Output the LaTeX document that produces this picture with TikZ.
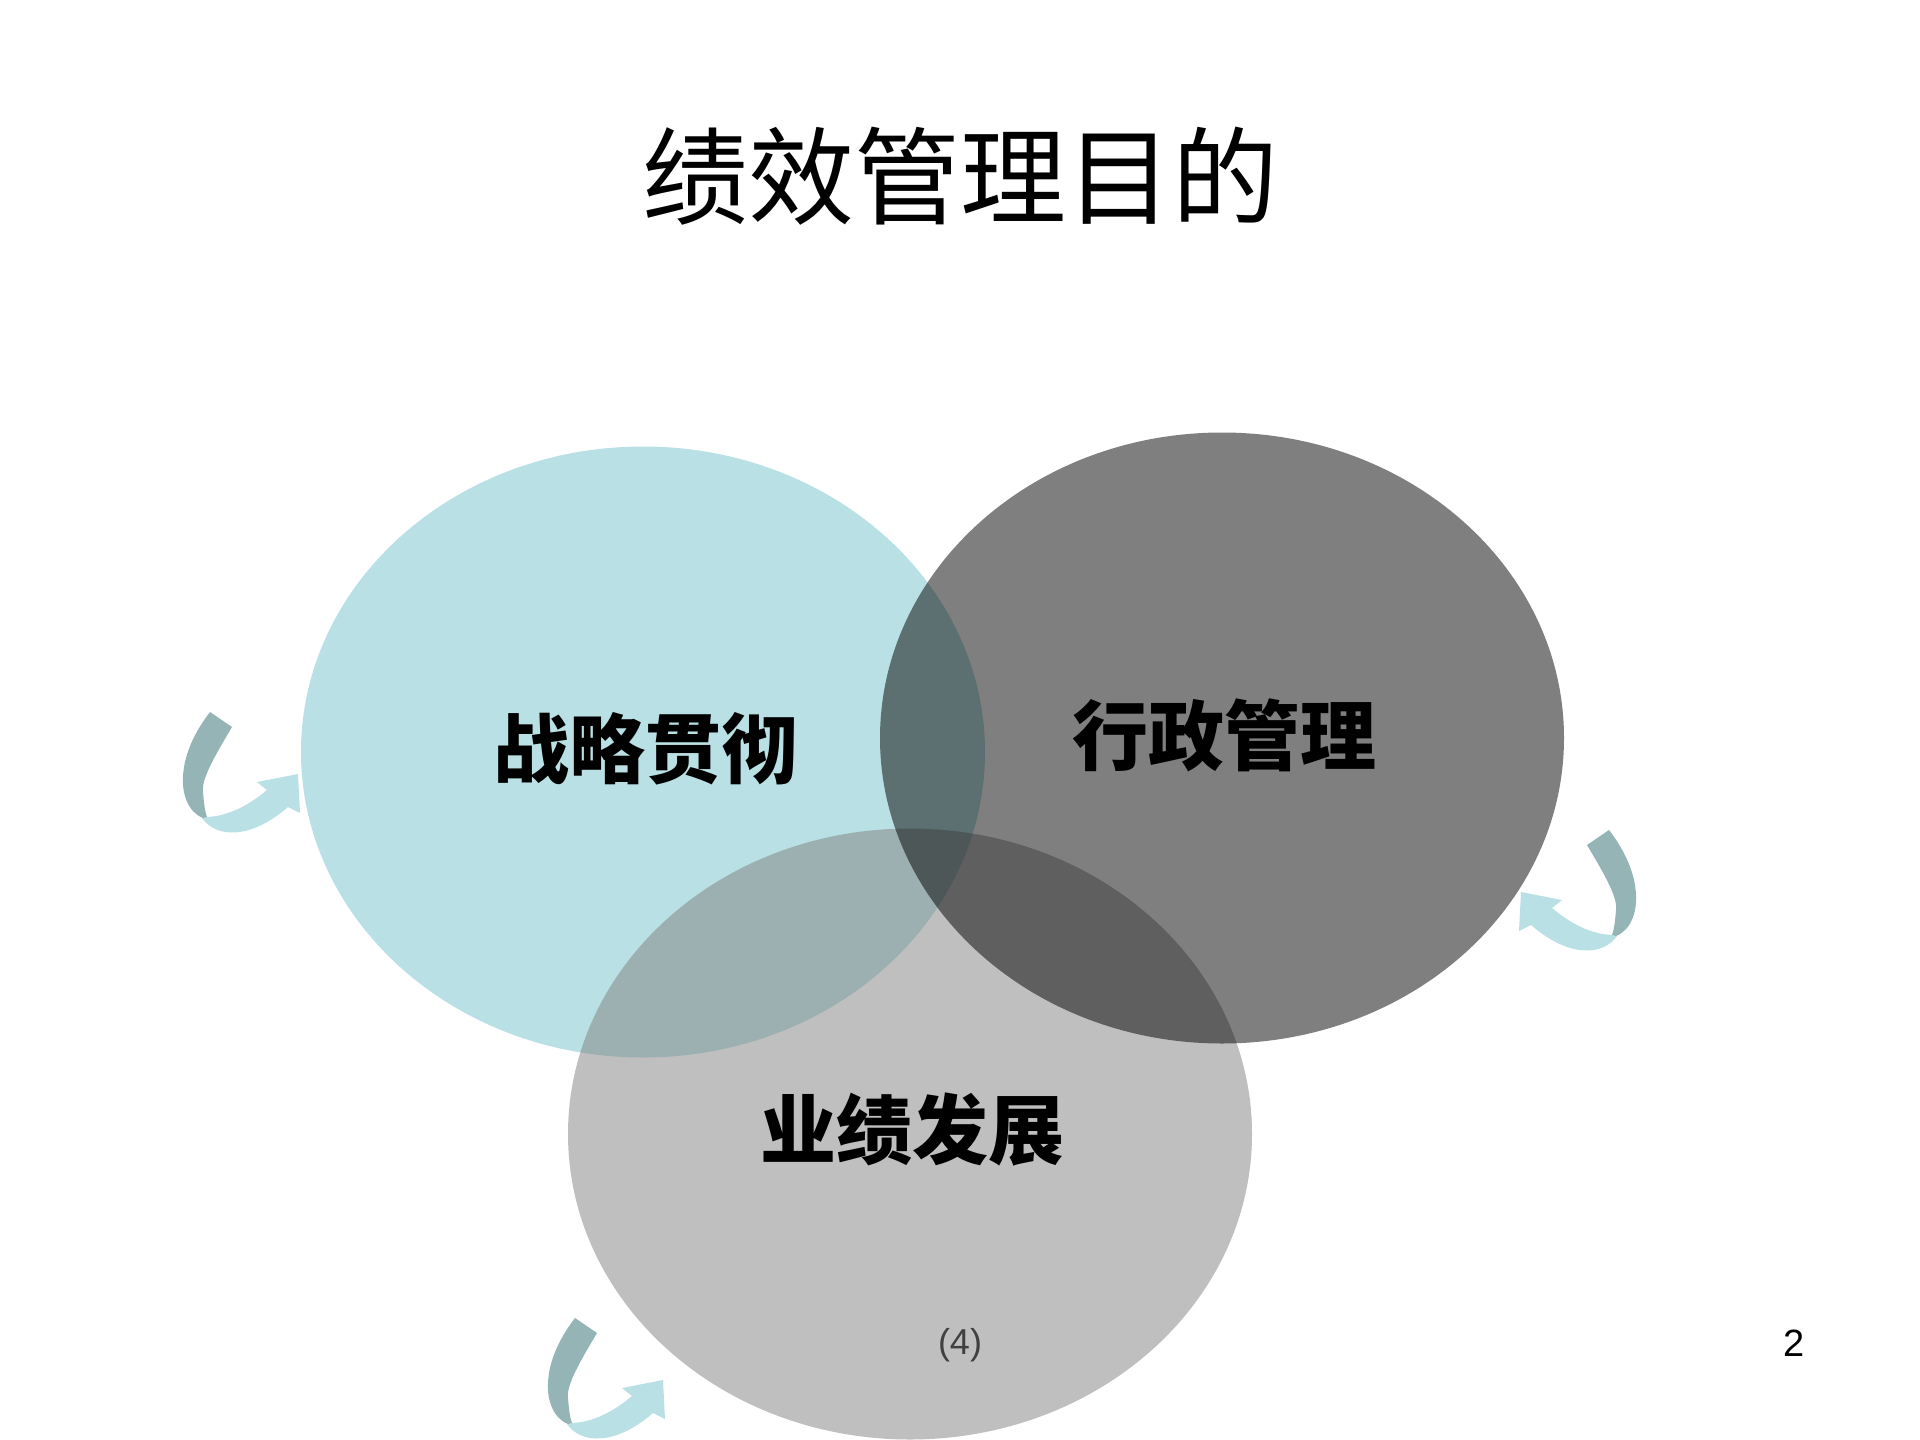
\documentclass[tikz,border=0pt]{standalone}
\usepackage{fontspec}
\setmainfont{Liberation Sans}
\newfontfamily\cjk{Noto Sans CJK SC}
\usetikzlibrary{shapes.geometric}
\definecolor{cblue}{RGB}{185,224,228}
\definecolor{cteal}{RGB}{148,180,182}
\definecolor{cgray}{RGB}{128,128,128}
\definecolor{cnum}{RGB}{64,64,64}
\tikzset{
  venn/.style={ellipse, minimum width=684pt, minimum height=611pt, inner sep=0pt},
  lbl/.style={font=\cjk\bfseries\fontsize{76}{80}\selectfont, inner sep=0pt},
  ttl/.style={font=\cjk\fontsize{106}{110}\selectfont, inner sep=0pt},
  swirl/.pic={
    \fill[cblue] (-96,44) .. controls (-82,64) and (-48,66) .. (-10,33)
      -- (2,39) -- (0,0) -- (-41,8) -- (-31,16)
      .. controls (-50,32) and (-70,42) .. (-91,43) -- cycle;
    \fill[cteal] (-88,-62) -- (-66,-47) .. controls (-82,-20) and (-97,5) .. (-95,18)
      .. controls (-94,30) and (-93,38) .. (-91,43) -- (-95,44)
      .. controls (-110,38) and (-116,20) .. (-115,3)
      .. controls (-114,-22) and (-101,-45) .. cycle;
  }
}
\begin{document}
\begin{tikzpicture}[x=1pt,y=-1pt]
\useasboundingbox (0,0) rectangle (1920,1440);
\fill[white] (0,0) rectangle (1920,1440);
% circles
\node[venn, fill=cblue] (cA) at (643,752) {};
\node[venn, fill=cgray, fill opacity=0.5] (cC) at (910,1134) {};
\node[venn, fill=black, fill opacity=0.5] (cB) at (1222,738) {};
% title
\node[ttl] (title) at (960,176) {绩效管理目的};
% labels
\node[lbl] (lA) at (645,749) {战略贯彻};
\node[lbl] (lB) at (1224,735) {行政管理};
\node[lbl] (lC) at (912,1130) {业绩发展};
% numbers
\node[font=\fontsize{36}{40}\selectfont, text=cnum, inner sep=0pt] (n4) at (960,1345) {(4)};
\node[font=\fontsize{38}{42}\selectfont, inner sep=0pt] (pg) at (1794,1343) {2};
% swirl arrows
\pic at (298,774) {swirl};
\pic at (663,1380) {swirl};
\pic[xscale=-1] at (1521,892) {swirl};
\end{tikzpicture}
\end{document}
